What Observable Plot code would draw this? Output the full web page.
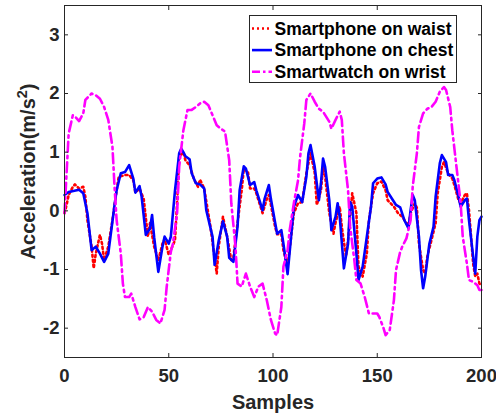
<!DOCTYPE html>
<html>
<head>
<meta charset="utf-8">
<script src="https://cdn.jsdelivr.net/npm/d3@7"></script>
<script src="https://cdn.jsdelivr.net/npm/@observablehq/plot@0.6"></script>
<style>
  html, body { margin: 0; padding: 0; background: #fff; }
  #wrap { position: relative; width: 496px; height: 416px; }
  #legend { position: absolute; left: 249px; top: 15px; }
</style>
</head>
<body>
<div id="wrap"></div>
<script>
// ---- data ----
const seriesNames = ["Smartphone on waist", "Smartphone on chest", "Smartwatch on wrist"];
const seriesColors = ["#ff0000", "#0000ff", "#ff00ff"];

const waistSamples = [0,1,2,4,5,7,9,10,11,13,14,15,17,18,19,21,23,25,26,29,31,33,34,36,38,40,41,43,45,47,48,50,51,53,54,55,57,58,60,62,64,65,67,70,73,74,76,78,80,81,83,85,86,88,89,91,92,95,97,98,99,101,102,104,105,107,108,110,112,114,116,118,120,121,123,124,125,127,129,130,132,133,135,136,138,140,141,143,145,146,148,150,152,154,155,158,160,162,164,165,166,168,169,170,172,173,174,176,178,179,181,182,184,186,187,189,190,192,193,194,196,197,198,199,200];
const waistValues  = [-0.04,0.10,0.27,0.41,0.45,0.38,0.41,0.24,-0.16,-0.61,-0.98,-0.73,-0.41,-0.56,-0.84,-0.61,-0.16,0.35,0.58,0.61,0.61,0.52,0.31,0.38,0.20,-0.44,-0.21,-0.61,-0.84,-0.56,-0.48,-0.75,-0.67,-0.50,0.13,0.92,1.00,0.86,0.78,0.55,0.41,0.53,0.38,-0.27,-1.07,-0.60,-0.10,-0.44,-0.84,-0.80,-0.20,0.35,0.72,0.66,0.38,0.38,0.30,-0.04,0.20,0.27,0.10,-0.27,-0.40,-0.40,-0.67,-0.95,-0.65,-0.04,0.13,0.15,0.64,0.98,0.65,0.10,0.35,0.75,0.58,-0.04,-0.39,-0.20,0.07,-0.27,-0.78,-0.50,0.30,-0.04,-0.95,-1.12,-0.73,-0.16,0.30,0.47,0.50,0.35,0.18,0.07,-0.04,-0.10,-0.21,-0.25,-0.04,0.13,0.05,-0.56,-1.01,-1.07,-0.78,-0.50,-0.21,0.30,0.75,0.83,0.64,0.55,0.44,0.18,0.13,0.27,0.30,0.01,-0.90,-1.12,-1.07,-1.24,-1.28];

const chestSamples = [0,2,7,9,11,13,15,17,19,21,24,25,27,29,31,33,34,36,37,39,41,42,43,45,47,48,50,51,53,55,56,57,58,60,61,63,65,67,68,71,72,74,76,78,79,81,83,84,86,87,89,91,92,95,96,98,99,101,102,104,105,107,108,110,112,114,116,117,118,120,122,123,124,125,127,128,130,131,132,134,136,137,138,140,141,143,145,147,148,150,152,154,155,157,159,161,163,165,166,167,168,170,171,172,173,175,177,178,180,181,183,184,186,187,189,190,192,193,194,196,197,198,199,200];
const chestValues  = [0.27,0.32,0.36,0.30,-0.04,-0.67,-0.61,-0.73,-0.87,-0.73,0.10,0.35,0.64,0.66,0.78,0.55,0.31,0.42,0.24,-0.41,-0.30,-0.07,-0.45,-1.04,-0.61,-0.44,-0.56,-0.44,0.35,0.98,1.06,1.00,0.93,0.88,0.64,0.47,0.45,0.38,0.01,-0.44,-0.92,-0.50,-0.18,-0.44,-0.80,-0.87,-0.27,0.35,0.76,0.72,0.44,0.49,0.35,0.01,0.21,0.44,0.20,-0.20,-0.39,-0.33,-0.56,-1.08,-0.70,0.07,0.27,0.15,0.58,0.98,1.12,0.75,0.18,0.47,0.89,0.75,0.18,-0.33,-0.10,0.13,-0.10,-0.98,-0.56,0.15,0.07,-0.73,-1.18,-0.95,-0.44,0.07,0.47,0.55,0.57,0.45,0.32,0.21,0.10,0.06,-0.16,-0.30,0.01,0.27,0.18,-0.44,-1.01,-1.32,-1.12,-0.56,-0.27,0.24,0.81,0.95,0.83,0.61,0.61,0.52,0.24,0.07,0.18,0.21,-0.16,-0.78,-1.07,-0.44,-0.16,-0.10];

const wristSamples = [0,1,2,4,5,7,9,10,13,15,17,19,21,23,24,25,27,28,29,31,32,34,36,38,40,42,44,46,48,49,51,52,54,55,57,59,61,63,65,67,69,71,73,75,77,79,80,82,83,85,87,89,91,93,95,97,99,101,102,104,105,107,108,110,112,113,115,116,118,120,122,124,127,128,130,132,133,134,136,137,139,140,142,144,146,148,150,151,153,154,156,158,159,161,162,164,166,167,169,170,172,174,176,178,180,182,183,185,186,188,190,191,193,194,196,198,199,200];
const wristValues  = [-0.04,0.64,1.32,1.63,1.61,1.53,1.66,1.89,2.00,1.97,1.91,1.77,1.55,1.09,0.41,-0.16,-0.73,-1.24,-1.47,-1.47,-1.41,-1.64,-1.85,-1.81,-1.64,-1.72,-1.86,-1.92,-1.69,-1.30,-0.70,-0.56,-0.04,0.75,1.37,1.72,1.72,1.77,1.83,1.86,1.80,1.63,1.46,1.40,1.35,0.86,0.13,-0.61,-1.24,-1.29,-1.07,-1.29,-1.47,-1.29,-1.24,-1.52,-1.86,-2.09,-2.12,-1.64,-0.95,-0.67,-0.33,0.13,0.52,0.92,1.49,1.89,2.00,1.86,1.74,1.69,1.52,1.40,1.55,1.69,1.55,0.98,0.35,-0.27,-0.84,-1.18,-1.24,-1.47,-1.75,-1.75,-1.75,-1.81,-2.00,-2.12,-2.03,-1.52,-1.01,-0.70,-0.61,-0.47,-0.16,0.41,0.98,1.43,1.66,1.74,1.77,1.86,2.03,2.11,2.06,1.77,1.37,0.75,0.13,-0.44,-0.90,-1.18,-1.21,-1.27,-1.35,-1.35];

const xTicks = [0, 50, 100, 150, 200];
const yTicks = [-2, -1, 0, 1, 2, 3];
const xLabel = "Samples";
const yLabelParts = ["Acceleration(m/s", "2", ")"];

// ---- build rows ----
const toRows = (xs, ys) => xs.map((s, i) => ({ s, v: ys[i] }));
const waist = toRows(waistSamples, waistValues);
const chest = toRows(chestSamples, chestValues);
const wrist = toRows(wristSamples, wristValues);

const ink = "#262626";
const font = "'Liberation Sans', Arial, Helvetica, sans-serif";
const dashStyles = ["2,3", null, "10,4,2.5,4"];
const plain = d => String(d);

const chart = Plot.plot({
  width: 496,
  height: 416,
  marginLeft: 64,
  marginRight: 15,
  marginTop: 5,
  marginBottom: 59,
  x: { domain: [0, 200] },
  y: { domain: [-2.5, 3.5] },
  style: { fontFamily: font, fontWeight: "bold", fontSize: "18px", color: ink, background: "white" },
  marks: [
    Plot.line(waist, { x: "s", y: "v", stroke: seriesColors[0], strokeWidth: 2.6, strokeDasharray: dashStyles[0] }),
    Plot.line(chest, { x: "s", y: "v", stroke: seriesColors[1], strokeWidth: 2.6 }),
    Plot.line(wrist, { x: "s", y: "v", stroke: seriesColors[2], strokeWidth: 2.6, strokeDasharray: dashStyles[2] }),
    Plot.frame({ stroke: ink, strokeWidth: 1 }),
    Plot.axisX({ anchor: "bottom", ticks: xTicks, tickSize: -4, tickPadding: 15, tickFormat: plain, label: null, stroke: ink, fill: ink, fontSize: 18.5, fontWeight: "bold" }),
    Plot.axisX({ anchor: "top", ticks: xTicks, tickSize: -4, tickFormat: () => "", label: null, stroke: ink }),
    Plot.axisY({ anchor: "left", ticks: yTicks, tickSize: -4, tickPadding: 9, tickFormat: plain, label: null, stroke: ink, fill: ink, fontSize: 18.5, fontWeight: "bold" }),
    Plot.axisY({ anchor: "right", ticks: yTicks, tickSize: -4, tickFormat: () => "", label: null, stroke: ink }),
    Plot.text([xLabel], { text: d => d, frameAnchor: "bottom", textAnchor: "middle", dy: 51, fontSize: 20, fontWeight: "bold", fill: ink }),
    Plot.text([yLabelParts.join("")], { text: d => d, frameAnchor: "left", textAnchor: "middle", rotate: -90, dx: -36, dy: -10, fontSize: 20, fontWeight: "bold", fill: ink, className: "ylabel" })
  ]
});

// render the "2" of m/s2 as a real superscript
d3.select(chart).selectAll(".ylabel text").each(function () {
  const t = d3.select(this);
  t.text(null);
  t.append("tspan").text(yLabelParts[0]);
  t.append("tspan").attr("dy", "-0.55em").attr("font-size", "0.72em").text(yLabelParts[1]);
  t.append("tspan").attr("dy", "0.4em").text(yLabelParts[2]);
});

const wrap = document.getElementById("wrap");
wrap.appendChild(chart);

// ---- legend (HTML-positioned SVG overlay inside the axes) ----
const lg = d3.select(wrap).append("svg")
  .attr("id", "legend")
  .attr("width", 209).attr("height", 69)
  .style("font-family", font);
lg.append("rect").attr("x", 0.5).attr("y", 0.5).attr("width", 207).attr("height", 67)
  .attr("fill", "white").attr("stroke", ink).attr("stroke-width", 1);
seriesNames.forEach((name, i) => {
  const cy = 13.5 + i * 21.6;
  const ln = lg.append("line").attr("x1", 3).attr("x2", 23).attr("y1", cy).attr("y2", cy)
    .attr("stroke", seriesColors[i]).attr("stroke-width", 2.6);
  if (dashStyles[i]) ln.attr("stroke-dasharray", i === 2 ? "8,3,2.5,3" : dashStyles[i]);
  lg.append("text").attr("x", 25.5).attr("y", cy).attr("dy", "0.35em")
    .attr("font-size", 17.5).attr("font-weight", "bold").attr("fill", "#000").text(name);
});
</script>
</body>
</html>
